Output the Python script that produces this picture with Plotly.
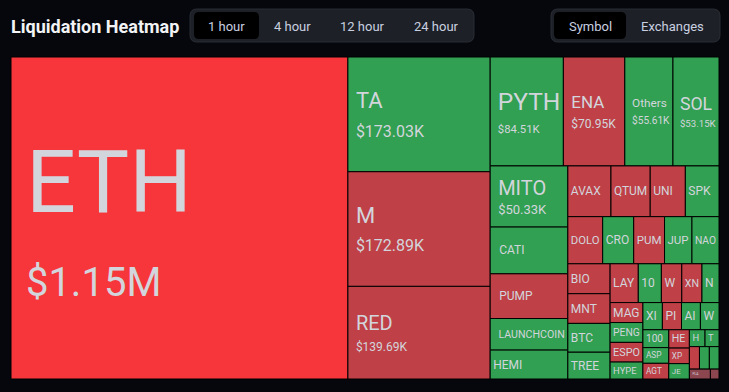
import plotly.graph_objects as go

W, H = 729, 392

# ---- data (values in K USD) ----
symbols = ["ETH", "TA", "M", "RED", "PYTH", "ENA", "Others", "SOL", "MITO", "CATI",
           "PUMP", "LAUNCHCOIN", "HEMI", "AVAX", "QTUM", "UNI", "SPK", "DOLO", "CRO", "PUM",
           "JUP", "NAO", "BIO", "MNT", "BTC", "TREE", "LAY", "10", "W", "XN",
           "N", "MAG", "PENG", "ESPO", "HYPE", "XI", "PI", "AI", "W", "100",
           "ASP", "AGT", "HE", "XP", "JE", "H", "T", "", "", "",
           "PLA", ""]
values_k = [1150, 173.03, 172.89, 139.69, 84.51, 70.95, 55.61, 53.15, 50.33, 38.5,
            36.8, 26.0, 23.8, 23.2, 21.1, 18.9, 18.1, 17.4, 15.5, 15.4,
            13.7, 13.5, 13.4, 13.3, 12.9, 12.0, 11.6, 9.5, 8.4, 8.3,
            7.0, 6.95, 6.9, 6.85, 5.9, 5.6, 5.5, 5.45, 5.35, 4.9,
            4.3, 4.3, 4.0, 3.4, 3.35, 2.8, 2.5, 2.4, 2.36, 2.3,
            2.2, 0.9]
# side: S = short liquidations (red), L = long (green), X = muted
sides = ["S", "L", "S", "S", "L", "S", "L", "L", "L", "L",
         "S", "L", "L", "S", "S", "S", "L", "S", "L", "S",
         "L", "L", "S", "S", "L", "L", "S", "L", "S", "S",
         "L", "S", "L", "S", "L", "L", "S", "L", "L", "L",
         "L", "S", "S", "S", "L", "L", "L", "S", "L", "L",
         "X", "X"]
show_value = ["ETH", "TA", "M", "RED", "PYTH", "ENA", "Others", "SOL", "MITO"]
time_tabs = ["1 hour", "4 hour", "12 hour", "24 hour"]
view_tabs = ["Symbol", "Exchanges"]

# ---- styles ----
label_sizes = {"ETH": 88, "TA": 22, "M": 22, "RED": 20, "PYTH": 26, "ENA": 17,
               "Others": 14, "SOL": 22, "MITO": 20}
value_sizes = {"ETH": 40, "TA": 16, "M": 16, "RED": 12, "PYTH": 12, "ENA": 12,
               "Others": 12, "SOL": 12, "MITO": 13}
line_base = {"ETH": 65, "TA": 22, "M": 22, "RED": 16, "PYTH": 19, "ENA": 15,
             "Others": 15, "SOL": 16, "MITO": 15}
lead_pad = {"ETH": 24}
side_colors = {"S": "#bf4147", "L": "#31a052", "X": "#8c4650"}
NB = "\u00a0"


def fmt(v):
    return f"${v/1000:.2f}M" if v >= 1000 else f"${v:.2f}K"


texts, colors, base_sizes = [], [], []
for i, (s, v, sd) in enumerate(zip(symbols, values_k, sides)):
    colors.append("#f6363a" if i == 0 else side_colors[sd])
    if s in show_value:
        ps = lead_pad.get(s, 10)
        pad = f"<span style='font-size:{ps}px'>{NB}{NB}</span>"
        texts.append(f"{pad}<span style='font-size:{label_sizes[s]}px'>{s}</span><br>"
                     f"{pad}<span style='font-size:{value_sizes[s]}px'>{fmt(v)}</span>")
        base_sizes.append(line_base[s])
    elif s:
        lead = NB + NB if v >= 24 else ""
        texts.append(f"<span style='font-size:12px'>{lead}{s}</span>")
        base_sizes.append(12)
    else:
        texts.append("")
        base_sizes.append(12)

ids = [f"id{i}" for i in range(len(symbols))]

fig = go.Figure(go.Treemap(
    ids=ids,
    labels=[s if s else " " for s in symbols],
    parents=[""] * len(symbols),
    values=values_k,
    text=texts,
    textinfo="text",
    texttemplate="%{text}",
    textposition="middle left",
    sort=True,
    branchvalues="remainder",
    marker=dict(colors=colors, line=dict(color="#000000", width=1),
                pad=dict(t=0, l=0, r=0, b=0)),
    tiling=dict(packing="squarify", squarifyratio=1.618034, pad=0),
    pathbar=dict(visible=False),
    textfont=dict(color="#d3d5dc", family="Roboto", size=base_sizes),
    insidetextfont=dict(color="#d3d5dc", family="Roboto", size=base_sizes),
    hoverinfo="skip",
    domain=dict(x=[11 / W, 719 / W], y=[1 - 379 / H, 1 - 57 / H]),
))


def px(x):
    return x / W


def py(y):
    return 1 - y / H


def rrect(x0, y0, x1, y1, r):
    pts = [
        f"M{px(x0 + r)},{py(y0)}", f"L{px(x1 - r)},{py(y0)}",
        f"Q{px(x1)},{py(y0)} {px(x1)},{py(y0 + r)}", f"L{px(x1)},{py(y1 - r)}",
        f"Q{px(x1)},{py(y1)} {px(x1 - r)},{py(y1)}", f"L{px(x0 + r)},{py(y1)}",
        f"Q{px(x0)},{py(y1)} {px(x0)},{py(y1 - r)}", f"L{px(x0)},{py(y0 + r)}",
        f"Q{px(x0)},{py(y0)} {px(x0 + r)},{py(y0)}", "Z"]
    return " ".join(pts)


shapes = [
    dict(type="path", xref="paper", yref="paper", path=rrect(190, 9, 474, 42, 7),
         fillcolor="#1d2026", line=dict(color="#2a2d35", width=1), layer="below"),
    dict(type="path", xref="paper", yref="paper", path=rrect(194, 12, 259, 39, 5),
         fillcolor="#000000", line=dict(width=0), layer="below"),
    dict(type="path", xref="paper", yref="paper", path=rrect(551, 9, 720, 42, 7),
         fillcolor="#1d2026", line=dict(color="#2a2d35", width=1), layer="below"),
    dict(type="path", xref="paper", yref="paper", path=rrect(554, 12, 626, 39, 5),
         fillcolor="#000000", line=dict(width=0), layer="below"),
]

annotations = [dict(text="<b>Liquidation Heatmap</b>", x=px(9), y=py(26), xref="paper",
                    yref="paper", xanchor="left", yanchor="middle", showarrow=False,
                    font=dict(family="Roboto", size=18, color="#f2f3f5"))]
for t, cx in zip(time_tabs, [226, 292, 362, 436]):
    annotations.append(dict(text=t, x=px(cx), y=py(26), xref="paper", yref="paper",
                            xanchor="center", yanchor="middle", showarrow=False,
                            font=dict(family="Roboto", size=13, color="#c9d0e0")))
for t, cx in zip(view_tabs, [590, 672]):
    annotations.append(dict(text=t, x=px(cx), y=py(26), xref="paper", yref="paper",
                            xanchor="center", yanchor="middle", showarrow=False,
                            font=dict(family="Roboto", size=13, color="#c9d0e0")))

fig.update_layout(
    width=W, height=H,
    margin=dict(l=0, r=0, t=0, b=0),
    paper_bgcolor="#05070c",
    plot_bgcolor="#05070c",
    shapes=shapes,
    annotations=annotations,
    showlegend=False,
)

fig.write_html("out.html")
